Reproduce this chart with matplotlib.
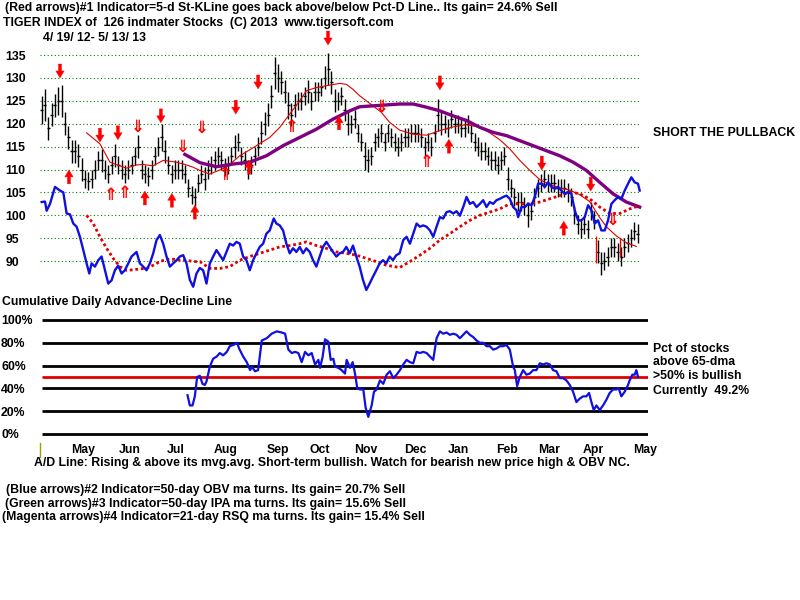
import matplotlib.pyplot as plt

# ---------------------------------------------------------------
# price bars, one entry per bar (left to right)
# ---------------------------------------------------------------
closes = [
    123, 124, 119, 122, 124, 125, 125, 120, 117, 114,
    114, 113, 110, 108, 107.5, 108, 110, 112, 112, 110,
    109, 111, 113, 111, 110, 109, 110, 111, 113, 115,
    110, 109, 108.5, 110, 113, 115, 117, 114, 111, 109,
    110, 110, 110, 109, 106, 104.5, 104, 107, 109, 108,
    110, 111, 112, 113, 112, 110.5, 111, 113, 115, 116,
    113, 112, 110, 111, 113, 115, 118, 120, 122, 126,
    131, 130, 129, 127, 124, 122, 124, 125, 125, 126,
    127, 125, 127, 127, 128, 130, 132, 129, 125, 125,
    126, 123, 120, 120, 121, 118, 116, 113, 112, 113,
    116, 117, 118, 116, 118, 117, 116, 115, 116, 117,
    117, 118, 118, 118, 117, 115, 116, 115, 118, 122,
    120, 120, 119, 121, 120, 120, 119, 119, 120, 118,
    116, 115, 114, 114, 113, 112, 112, 111, 112, 113,
    108, 106, 104, 103, 103, 102, 100, 101, 104, 106,
    107, 108, 107, 107, 107, 106, 106, 106, 105, 104,
    100, 98, 97, 98, 97, 101, 99, 92, 89.5, 90,
    91, 93, 93, 92, 91, 93, 94, 95, 96.5, 96,
]
spans = [
    6, 7, 5, 5, 5, 6, 7, 5, 5, 5,
    5, 5, 5, 4, 4, 4, 4, 4, 5, 4,
    4, 4, 5, 4, 4, 4, 4, 4, 4, 5,
    4, 4, 4, 4, 4, 4, 6, 5, 4, 4,
    4, 4, 4, 4, 4, 4, 4, 4, 4, 5,
    4, 4, 4, 4, 4, 4, 4, 4, 5, 4,
    4, 4, 4, 4, 4, 4, 5, 5, 5, 5,
    7, 6, 5, 5, 6, 5, 5, 4, 4, 4,
    5, 4, 4, 4, 4, 5, 7, 5, 5, 4,
    4, 5, 5, 4, 4, 4, 4, 6, 5, 4,
    4, 4, 4, 4, 4, 4, 4, 4, 4, 4,
    4, 4, 4, 4, 4, 4, 4, 4, 4, 7,
    5, 4, 4, 4, 4, 4, 4, 4, 4, 4,
    4, 4, 4, 4, 4, 4, 4, 4, 4, 4,
    5, 4, 4, 4, 4, 4, 5, 4, 4, 4,
    4, 4, 4, 4, 4, 4, 4, 4, 4, 4,
    4, 4, 4, 4, 4, 4, 4, 5, 5, 4,
    4, 4, 4, 4, 4, 4, 4, 4, 4, 4,
]
red_bar_x = [166.5, 173.7]
red_bar_lo = [89.5, 91]
red_bar_hi = [95.5, 95]

# thin red moving average of price
ma_short_x = [13.5, 17.5, 20.5, 23.5, 25.5, 28.5, 30.5, 33.5, 36.5, 40.5,
              43.5, 45.5, 47.5, 50.5, 55.5, 59.5, 64.5, 68.5, 71.5, 74.5,
              77.5, 79.5, 82.5, 85.5, 89.5, 91.5, 93.5, 95.5, 97.5, 99.5,
              102, 104.5, 107.5, 111.6, 115.6, 119.6, 123.6, 127.6, 131.6, 134.6,
              137.6, 140.6, 143.6, 146.6, 149.6, 152.6, 155.6, 158.6, 161.6, 164.6,
              167.6, 169.6, 172.6, 175.6, 178.6]
ma_short_y = [118, 115.6, 111.6, 110.8, 110.3, 111, 111.1, 110.8, 112, 111.6,
              111, 110.5, 109.8, 109, 110.5, 113, 115.2, 117, 119.2, 122.1,
              125, 127.2, 127.9, 128.3, 128.8, 128.6, 127.5, 126.1, 125, 123.9,
              122.5, 120.3, 118.6, 117.7, 117.5, 118.5, 119.3, 119.8, 119.2, 118,
              116.5, 114.5, 112, 109.8, 107.8, 106.7, 106, 105.5, 104.5, 103,
              99.5, 97.5, 95.5, 94, 93.2]

# thick purple moving average of price
ma_long_x = [43, 47.5, 52.5, 57.5, 62.5, 67.5, 72.5, 77.5, 82.5, 87.5,
             92.5, 95.5, 99.5, 103.5, 107.5, 111.6, 115.6, 119.6, 123.6, 127.6,
             131.6, 135.6, 139.6, 143.6, 147.6, 151.6, 155.6, 159.6, 163.6, 167.6,
             171.6, 175.6, 179.6]
ma_long_y = [113.3, 111.5, 110.6, 111.2, 111.6, 113, 115.2, 117, 118.8, 121,
             122.8, 123.7, 123.9, 124.1, 124.3, 124.3, 123.6, 122.8, 121.7, 120.7,
             119.2, 118.1, 117.4, 116.3, 115.2, 114.1, 113, 111.6, 109.8, 107.2,
             104.7, 102.9, 101.8]

# blue OBV line
obv_x = [0, 1, 1.5, 2.5, 4, 5.5, 6.5, 7.5, 8.5, 9.5,
         10.5, 11.5, 12.5, 13.5, 14.3, 15, 16, 17, 18, 19,
         20, 21, 22, 23, 24, 25, 26, 27, 28.5, 29.5,
         30.5, 31.5, 32.5, 33.5, 34.5, 35.5, 36.5, 37.5, 38.5, 39.5,
         40.5, 41.5, 42.5, 43.5, 44.5, 45.5, 46.5, 47.5, 48.5, 49.5,
         50.5, 51.5, 52.5, 53.5, 54.5, 55.5, 56.5, 57.5, 58.5, 59.5,
         60.5, 61.5, 62.5, 63.5, 64.5, 65.5, 66.5, 67.5, 68.5, 69.7,
         70.5, 71.5, 72.5, 73.5, 74.5, 75.5, 76.5, 77.5, 78.5, 79.5,
         80.5, 81.5, 82.5, 83.5, 84.5, 85.5, 86.5, 87.5, 88.5, 89.5,
         90.5, 91.5, 92.5, 93.5, 94.5, 95.5, 96.5, 97.5, 98.5, 99.5,
         100.5, 101.5, 102.5, 103.5, 104.5, 105.5, 106.5, 107.5, 108.6, 109.6,
         110.6, 111.6, 112.6, 113.6, 114.6, 115.6, 116.6, 117.6, 118.6, 119.6,
         120.6, 121.6, 122.6, 123.6, 124.6, 125.6, 126.6, 127.6, 128.6, 129.6,
         130.6, 131.6, 132.6, 133.6, 134.6, 135.6, 136.6, 137.6, 138.6, 139.6,
         140.6, 141.6, 142.6, 143.1, 144.1, 145.1, 146.1, 147.1, 148.1, 149.1,
         150.1, 151.1, 152.1, 153.1, 154.1, 155.1, 156.1, 157.1, 158.1, 159.1,
         160.1, 161.1, 162.1, 163.1, 164.1, 165.1, 166.1, 167.1, 168.1, 169.1,
         170.1, 171.1, 172.1, 173.1, 174.1, 175.1, 176.1, 177.1, 178.1, 179.1,
         179.6]
obv_y = [102.9, 103, 101, 102.5, 106.2, 105.4, 105, 100.4, 100.2, 98.2,
         97.5, 95.3, 92.4, 89.5, 87.3, 89.5, 88.8, 90.2, 91, 88,
         85.1, 85.8, 88, 89, 87.3, 88, 89.5, 91, 92, 89.5,
         88.8, 88, 89.5, 91.7, 94.6, 95.7, 93.8, 91, 88.8, 89.5,
         90.2, 91, 91.3, 89.5, 85.9, 84.4, 87.3, 88.5, 88, 85.1,
         89.5, 91, 92.4, 91.3, 90.2, 92, 93.8, 93.4, 94.2, 93.8,
         91, 90.2, 88, 90.2, 91.7, 93.1, 93.8, 96, 96.7, 99.3,
         98.2, 97.8, 96.7, 93.8, 91.7, 92.8, 92, 93.1, 91.7, 92.8,
         92, 90.2, 88.8, 91, 93.1, 94.2, 93.1, 92, 91, 91.7,
         92, 93.1, 91.7, 93.4, 91, 88.8, 85.9, 83.7, 85.1, 86.6,
         88, 89.5, 90.2, 89.5, 91, 90.2, 91.3, 91.7, 94.6, 95.3,
         93.8, 96, 98.2, 97.5, 97.8, 97.5, 96.7, 95.3, 97.5, 99.6,
         99.3, 100.7, 100.9, 100.4, 100.9, 99.9, 101.8, 104, 102.5, 102.9,
         101.8, 102.5, 103.3, 101.8, 102.9, 102.5, 103.3, 103.6, 104, 104.3,
         103.6, 101.8, 101.1, 99.6, 101.8, 101.8, 102.5, 102.2, 104, 106.9,
         106.9, 106.2, 107.2, 106.2, 105.8, 106.2, 105.4, 104.7, 105.1, 104.7,
         101.1, 98.9, 98.9, 99.6, 102.2, 101.1, 98.2, 98.9, 96.7, 96.7,
         98.9, 102.5, 103.3, 104, 103.6, 105.4, 106.9, 108.3, 107.2, 106.9,
         105.4]

# red dotted moving average of OBV
obv_ma_x = [13.5, 15.5, 17.5, 19.5, 21.5, 23.5, 25.5, 27.5, 29.5, 31.5,
            33.5, 35.5, 37.5, 39.5, 41.5, 43.5, 45.5, 47.5, 50.5, 53.5,
            56.5, 59.5, 62.5, 65.5, 68.5, 71.5, 74.5, 77.5, 79.5, 82.5,
            85.5, 88.5, 91.5, 94.5, 97.5, 100.5, 103.5, 107.5, 110.6, 113.6,
            116.6, 119.6, 122.6, 125.6, 128.6, 131.6, 134.6, 137.6, 140.6, 143.6,
            146.6, 149.6, 152.6, 155.6, 158.6, 161.6, 164.6, 167.6, 170.6, 173.6,
            176.6, 179.6]
obv_ma_y = [100, 98.2, 95.3, 92.8, 90.6, 88.8, 88, 88.1, 88.3, 88.4,
            89.1, 89.9, 90.4, 90.4, 90.2, 90.2, 89.9, 89.9, 88.4, 88.4,
            88.8, 90.2, 91, 91.7, 92.4, 93.1, 93.4, 93.8, 94.2, 93.4,
            92.8, 92, 91.7, 91.3, 90.6, 89.9, 89.1, 88.6, 89.9, 91.3,
            92.8, 94.6, 96, 97.5, 98.9, 100, 100.7, 101.4, 102.5, 102.5,
            102.5, 102.9, 103.6, 104.3, 105.1, 104.7, 103.6, 101.8, 100.4, 100.4,
            101.4, 102.1]

# red signal arrows: position (bar, price) of each arrow's centre
down_x = [5.5, 17.5, 22.9, 35.8, 58.3, 65, 86, 119.6, 150.2, 164.9]
down_y = [131.5, 117.5, 118, 121.7, 123.6, 129.1, 138.7, 128.9, 111.4, 106.8]
down_hollow_x = [28.9, 42.4, 48.1, 102.2, 171.6]
down_hollow_y = [119.3, 114.9, 119.1, 123.6, 99]
up_x = [8.2, 31, 39.1, 46, 62.3, 89.3, 122.3, 156.8]
up_y = [108.4, 103.8, 103.3, 100.7, 110.5, 120.2, 115.1, 97.2]
up_hollow_x = [20.8, 25, 55.3, 75.2, 115.7]
up_hollow_y = [104.4, 104.9, 108.8, 119.3, 111.6]

# pct of stocks above 65-dma (lower panel)
pct_x = [43.8, 44.5, 45.3, 46.0, 46.7, 47.5, 48.3, 49.0, 49.5, 50.5,
         51.5, 52.6, 53.5, 54.5, 55.6, 56.5, 57.5, 58.7, 59.3, 60.5,
         61.6, 62.6, 63.1, 64.1, 65.0, 66.1, 67.6, 69.1, 70.6, 72.1,
         73.1, 74.1, 75.1, 76.1, 77.1, 78.1, 79.1, 80.1, 81.1, 82.1,
         83.1, 83.6, 84.4, 85.1, 86.1, 86.8, 87.6, 88.1, 89.1, 90.1,
         91.1, 91.6, 92.6, 93.4, 94.1, 94.8, 95.6, 96.6, 97.3, 98.1,
         99.1, 99.8, 100.6, 101.6, 102.6, 103.6, 104.6, 105.6, 106.6, 107.6,
         108.6, 109.6, 110.6, 111.6, 112.6, 113.6, 114.6, 115.6, 116.6, 117.6,
         118.6, 119.6, 120.6, 121.6, 122.6, 123.6, 124.6, 125.6, 126.6, 127.6,
         128.6, 129.6, 130.6, 131.6, 132.6, 133.6, 134.6, 135.6, 136.6, 137.6,
         138.6, 139.6, 140.6, 141.6, 142.1, 142.8, 143.6, 144.6, 145.6, 146.6,
         147.6, 148.6, 149.6, 150.6, 151.6, 152.6, 153.6, 154.6, 155.6, 156.6,
         157.6, 158.6, 159.6, 160.6, 161.6, 162.6, 163.6, 164.4, 165.1, 165.8,
         166.6, 167.6, 168.6, 169.6, 170.6, 171.6, 172.6, 173.3, 174.1, 175.1,
         176.1, 176.6, 177.4, 178.1, 178.6, 179.1]
pct_y = [34, 25, 25, 33, 50, 51, 44, 43, 46, 59,
         66, 68, 71, 69, 72, 77, 78, 80, 75, 68,
         63, 56, 59, 55, 56, 82, 84, 88, 90, 89,
         88, 74, 71, 72, 71, 63, 72, 69, 71, 61,
         65, 58, 68, 83, 81, 65, 66, 59, 58, 56,
         53, 65, 58, 63, 53, 40, 39, 39, 23, 15,
         25, 37, 39, 47, 44, 52, 55, 49, 52, 56,
         61, 65, 63, 62, 72, 71, 72, 71, 68, 65,
         84, 90, 88, 89, 87, 88, 87, 84, 87, 90,
         87, 85, 82, 80, 80, 77, 77, 74, 75, 77,
         77, 78, 74, 59, 56, 42, 50, 56, 52, 53,
         56, 56, 62, 61, 62, 61, 56, 55, 49, 49,
         47, 43, 37, 28, 31, 33, 33, 36, 28, 21,
         25, 21, 25, 30, 36, 39, 39, 40, 33, 37,
         43, 47, 52, 52, 56, 50]

price_levels = [135, 130, 125, 120, 115, 110, 105, 100, 95, 90]
pct_levels = [100, 80, 60, 40, 20, 0]
pct_labels = ["100%", "80%", "60%", "40%", "20%", "0%"]
month_pos = [12.4, 26.5, 40.3, 55.3, 71, 83.6, 97.4, 112.1, 125.3, 139.7, 152.3, 165.8, 181.2]
month_labels = ["May", "Jun", "Jul", "Aug", "Sep", "Oct", "Nov", "Dec",
                "Jan", "Feb", "Mar", "Apr", "May"]

FONT = dict(family="Liberation Sans", weight="bold", fontsize=8.8)

fig = plt.figure(figsize=(8, 6), dpi=100)
fig.patch.set_facecolor("white")

# ---------------------------------------------------------------
# upper panel: price bars, moving averages, OBV
# ---------------------------------------------------------------
ax = fig.add_axes([40 / 800, 1 - 295 / 600, 608 / 800, 265 / 600])
ax.set_xlim(-0.5, 182.1)
ax.set_ylim(82.6, 140.46)
for s in ax.spines.values():
    s.set_visible(False)
ax.set_xticks([])
ax.set_yticks(price_levels)
ax.set_yticklabels([str(v) for v in price_levels], ha="left", **FONT)
ax.tick_params(axis="y", length=0, pad=25)

ax.hlines(price_levels, -0.5, 179.7, colors="#008000",
          linestyles=(0, (1, 2.2)), lw=0.8, zorder=1)

xs = list(range(len(closes)))
lows = [c - s / 2 for c, s in zip(closes, spans)]
highs = [c + s / 2 for c, s in zip(closes, spans)]
ax.vlines(xs, lows, highs, colors="black", lw=1.0, zorder=3)
ax.hlines(closes, [x - 0.45 for x in xs], [x + 0.45 for x in xs],
          colors="black", lw=1.0, zorder=3)
ax.vlines(red_bar_x, red_bar_lo, red_bar_hi, colors="red", lw=1.0, zorder=3)

ax.plot(ma_short_x, ma_short_y, color="#e00000", lw=0.8, zorder=4)
ax.plot(ma_long_x, ma_long_y, color="#800080", lw=2.4, zorder=4)
ax.plot(obv_ma_x, obv_ma_y, color="#e00000", lw=2.0,
        linestyle=(0, (1, 1)), zorder=4)
ax.plot(obv_x, obv_y, color="#1010e0", lw=1.7, zorder=5)


def draw_arrows(xv, yv, up):
    for x, y in zip(xv, yv):
        tip = y + 1.5 if up else y - 1.5
        ax.annotate("", xy=(x, tip), xytext=(0, -10 if up else 10),
                    textcoords="offset points",
                    arrowprops=dict(arrowstyle="simple,head_width=0.6,"
                                               "head_length=0.5,tail_width=0.22",
                                    fc="red", ec="red", lw=0.3,
                                    shrinkA=0, shrinkB=0),
                    zorder=6)


def draw_double_arrows(xv, yv, glyph):
    for x, y in zip(xv, yv):
        ax.text(x, y, glyph, color="red", fontsize=12, fontweight="bold",
                family="DejaVu Sans", ha="center", va="center", zorder=6)


draw_arrows(down_x, down_y, False)
draw_arrows(up_x, up_y, True)
draw_double_arrows(down_hollow_x, down_hollow_y, "\u21d3")
draw_double_arrows(up_hollow_x, up_hollow_y, "\u21d1")

# ---------------------------------------------------------------
# lower panel: pct of stocks above 65-dma
# ---------------------------------------------------------------
ax2 = fig.add_axes([40 / 800, 1 - 440 / 600, 608 / 800, 128 / 600])
ax2.set_xlim(-0.5, 182.1)
ax2.set_ylim(-5.3, 107)
for s in ax2.spines.values():
    s.set_visible(False)
ax2.set_yticks(pct_levels)
ax2.set_yticklabels(pct_labels, ha="left", **FONT)
ax2.tick_params(axis="y", length=0, pad=28)
ax2.set_xticks(month_pos)
ax2.set_xticklabels(month_labels, **FONT)
ax2.tick_params(axis="x", length=0, pad=3)

ax2.hlines(pct_levels, 0.1, 182.1, colors="black", lw=2.0, zorder=1)
ax2.hlines([50], 0.1, 182.1, colors="#e00000", lw=2.0, zorder=2)
ax2.plot(pct_x, pct_y, color="#1010e0", lw=1.6, zorder=3)
ax2.plot([-0.5, -0.5], [-8, -20], color="#a0a000", lw=1.0, clip_on=False)

# ---------------------------------------------------------------
# texts
# ---------------------------------------------------------------
def ftext(px, py, s):
    fig.text(px / 800, 1 - py / 600, s, va="center", ha="left", **FONT)


ftext(5, 8, "(Red arrows)#1 Indicator=5-d St-KLine goes back above/below "
            "Pct-D Line.. Its gain= 24.6% Sell")
ftext(3, 23, "TIGER INDEX of  126 indmater Stocks  (C) 2013  www.tigersoft.com")
ftext(43, 38, "4/ 19/ 12- 5/ 13/ 13")
ftext(653, 133, "SHORT THE PULLBACK")
ftext(2, 302, "Cumulative Daily Advance-Decline Line")
ftext(653, 349, "Pct of stocks")
ftext(653, 362, "above 65-dma")
ftext(653, 376, ">50% is bullish")
ftext(653, 391, "Currently  49.2%")
ftext(34, 463, "A/D Line: Rising & above its mvg.avg. Short-term bullish. "
               "Watch for bearish new price high & OBV NC.")
ftext(6, 490, "(Blue arrows)#2 Indicator=50-day OBV ma turns. Its gain= 20.7% Sell")
ftext(5, 504, "(Green arrows)#3 Indicator=50-day IPA ma turns. Its gain= 15.6% Sell")
ftext(2, 517, "(Magenta arrows)#4 Indicator=21-day RSQ ma turns. Its gain= 15.4% Sell")

fig.savefig("out.png", dpi=100)
